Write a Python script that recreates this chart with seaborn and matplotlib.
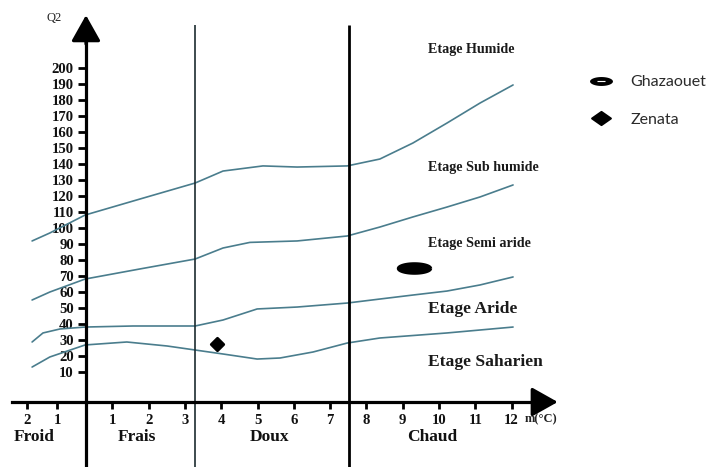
import matplotlib
matplotlib.use("Agg")
import matplotlib.pyplot as plt
from matplotlib.path import Path
from matplotlib.markers import MarkerStyle
from matplotlib.lines import Line2D
import numpy as np
import pandas as pd
import seaborn as sns

# Emberger climagram: boundary curves between bioclimatic stages (m in °C, Q2)
humide_m = [-1.21, -0.72, 0.25, 1.76, 3.28, 3.64, 4.05, 5.15, 6.09, 7.47, 8.37, 9.28, 10.22, 11.13, 12.04]
humide_q = [91.9, 96.9, 108.1, 118.1, 128.1, 131.6, 135.6, 138.8, 138.1, 138.8, 143.1, 153.1, 165.6, 178.1, 189.4]

subhumide_m = [-1.21, -0.72, 0.25, 1.76, 3.28, 4.05, 4.79, 6.09, 7.47, 8.37, 9.28, 10.22, 11.13, 12.04]
subhumide_q = [55.0, 60.0, 68.1, 74.4, 80.6, 87.5, 91.0, 91.9, 95.0, 100.6, 106.9, 113.1, 119.4, 126.9]

semiaride_m = [-1.21, -0.91, -0.44, 0.25, 1.57, 3.28, 4.05, 4.99, 6.09, 7.47, 8.37, 9.28, 10.22, 11.13, 12.04]
semiaride_q = [28.75, 34.4, 36.9, 38.1, 38.75, 38.75, 42.5, 49.4, 50.6, 53.1, 55.6, 58.1, 60.6, 64.4, 69.4]

aride_m = [-1.21, -0.72, 0.25, 1.40, 2.51, 3.28, 4.05, 4.99, 5.62, 6.53, 7.47, 8.37, 10.22, 12.04]
aride_q = [13.1, 19.4, 26.9, 28.75, 26.25, 23.75, 21.25, 18.1, 18.75, 22.5, 28.1, 31.25, 34.4, 38.1]

# Stations
station_names = ["Ghazaouet", "Zenata"]
station_m = [9.32, 3.88]
station_q = [75.0, 27.5]

# Axis ticks and labels
q_ticks = list(range(10, 201, 10))
m_tick_pos = [-1.35, -0.52, 1, 2, 3, 4, 5, 6, 7, 8, 9, 10, 11, 12]
m_tick_labels = ["2", "1", "1", "2", "3", "4", "5", "6", "7", "8", "9", "10", "11", "12"]

# Thermal classes
thermal_bounds = [3.28, 7.52]
thermal_names = ["Froid", "Frais", "Doux", "Chaud"]
thermal_label_m = [-1.16, 1.68, 5.32, 9.81]

stage_names = ["Etage Humide", "Etage Sub humide", "Etage Semi aride", "Etage Aride", "Etage Saharien"]
stage_label_q = [211.3, 138.1, 90.6, 49.4, 16.25]
stage_label_size = [10.2, 10.2, 10.2, 12.6, 12.6]

sns.set_theme(style="white")
plt.rcParams["font.family"] = ["Liberation Serif", "DejaVu Serif"]

fig = plt.figure(figsize=(7.15, 4.67), dpi=100)
ax = fig.add_axes([0, 0, 1, 1])
ax.set_xlim(-2.094, 17.603)
ax.set_ylim(-49.375, 242.5)
ax.set_facecolor("white")

curve_color = "#4a7d8d"
curves = [(humide_m, humide_q), (subhumide_m, subhumide_q),
          (semiaride_m, semiaride_q), (aride_m, aride_q)]
for cm, cq in curves:
    df = pd.DataFrame({"m": cm, "Q2": cq})
    sns.lineplot(data=df, x="m", y="Q2", sort=False, color=curve_color,
                 linewidth=1.2, ax=ax)

# Thermal class boundaries
ax.vlines(thermal_bounds, -49.4, 227, colors=["#1c2c30", "#000000"],
          linewidths=[1.2, 2.0], zorder=3)

# Axes drawn as arrows through the origin
x_axis_q = -8.75
y_axis_m = 0.275
for side in ["top", "right"]:
    ax.spines[side].set_visible(False)
ax.spines["left"].set_position(("data", y_axis_m))
ax.spines["left"].set_bounds(-49.4, 222)
ax.spines["bottom"].set_position(("data", x_axis_q))
ax.spines["bottom"].set_bounds(-1.76, 12.8)
for side in ["left", "bottom"]:
    ax.spines[side].set_linewidth(2.3)
    ax.spines[side].set_color("black")
    ax.spines[side].set_zorder(4)

arrow = dict(arrowstyle="-|>,head_length=0.8,head_width=0.45", color="black",
             lw=2.3, shrinkA=0, shrinkB=0, mutation_scale=20)
ax.annotate("", xy=(y_axis_m, 233), xytext=(y_axis_m, 215), arrowprops=arrow)
ax.annotate("", xy=(13.27, x_axis_q), xytext=(12.6, x_axis_q), arrowprops=arrow)

ax.set_yticks(q_ticks)
ax.set_yticklabels([str(v) for v in q_ticks])
ax.set_xticks(m_tick_pos)
ax.set_xticklabels(m_tick_labels)
ax.tick_params(axis="y", direction="out", length=5.5, width=2.0, pad=3.2,
               labelsize=10.6, left=True, colors="black")
ax.tick_params(axis="x", direction="out", length=5.0, width=2.0, pad=3.5,
               labelsize=10.6, bottom=True, colors="black")
for lbl in ax.get_xticklabels() + ax.get_yticklabels():
    lbl.set_fontweight("bold")
    lbl.set_color("#111111")
ax.set_xlabel("")
ax.set_ylabel("")

ax.text(-0.61, 231.3, "Q2", ha="center", va="center", fontsize=9, color="#222222")
ax.text(12.37, -19.4, "m(°C)", ha="left", va="center", fontsize=9,
        fontweight="bold", color="#222222")

for name, xm in zip(thermal_names, thermal_label_m):
    ax.text(xm, -30.6, name, ha="center", va="center", fontsize=12.5,
            fontweight="bold", color="#111111")

for name, yq, fs in zip(stage_names, stage_label_q, stage_label_size):
    ax.text(9.70, yq, name, ha="left", va="center", fontsize=fs,
            fontweight="bold", color="#1a1a1a")

# Station markers
ellipse_t = np.linspace(0, 2 * np.pi, 60)
wide_ellipse = Path(np.column_stack([np.cos(ellipse_t), 0.30 * np.sin(ellipse_t)]))
diamond = Path([(0, 1), (1, 0), (0, -1), (-1, 0), (0, 1)],
               [Path.MOVETO, Path.LINETO, Path.LINETO, Path.LINETO, Path.CLOSEPOLY])
station_markers = {
    "Ghazaouet": MarkerStyle(wide_ellipse),
    "Zenata": MarkerStyle(diamond, joinstyle="round"),
}
station_sizes = {"Ghazaouet": 23.5 ** 2, "Zenata": 9.0 ** 2}
station_df = pd.DataFrame({"station": station_names, "m": station_m, "Q2": station_q})
for name, row in station_df.set_index("station").iterrows():
    sns.scatterplot(x=[row["m"]], y=[row["Q2"]], marker=station_markers[name],
                    s=station_sizes[name], color="black", edgecolor="black",
                    linewidth=2.0, ax=ax, zorder=5)

# Legend keys
outer = np.column_stack([np.cos(ellipse_t), 0.39 * np.sin(ellipse_t)])
dash = np.array([[-0.35, -0.05], [-0.35, 0.05], [0.35, 0.05], [0.35, -0.05], [-0.35, -0.05]])
legend_ellipse = Path(np.vstack([outer, dash]),
                      [Path.MOVETO] + [Path.LINETO] * (len(outer) - 2) + [Path.CLOSEPOLY]
                      + [Path.MOVETO, Path.LINETO, Path.LINETO, Path.LINETO, Path.CLOSEPOLY])
legend_diamond = Path([(0, 0.7), (1, 0), (0, -0.7), (-1, 0), (0, 0.7)],
                      [Path.MOVETO, Path.LINETO, Path.LINETO, Path.LINETO, Path.CLOSEPOLY])
handles = [
    Line2D([], [], linestyle="none", marker=MarkerStyle(legend_ellipse), markersize=16.5,
           markerfacecolor="black", markeredgewidth=0),
    Line2D([], [], linestyle="none", marker=MarkerStyle(legend_diamond, joinstyle="round"),
           markersize=13.5, markerfacecolor="black", markeredgecolor="black",
           markeredgewidth=1.5),
]
ax.legend(handles, station_names, loc="center left", bbox_to_anchor=(0.818, 0.7837),
          frameon=False, borderpad=0, borderaxespad=0, handlelength=2.0,
          handletextpad=0.85, labelspacing=1.45,
          prop={"family": ["Lato", "DejaVu Sans"], "size": 11.5},
          labelcolor="#2a2a2a")

fig.savefig("out.png", dpi=100, facecolor="white")
